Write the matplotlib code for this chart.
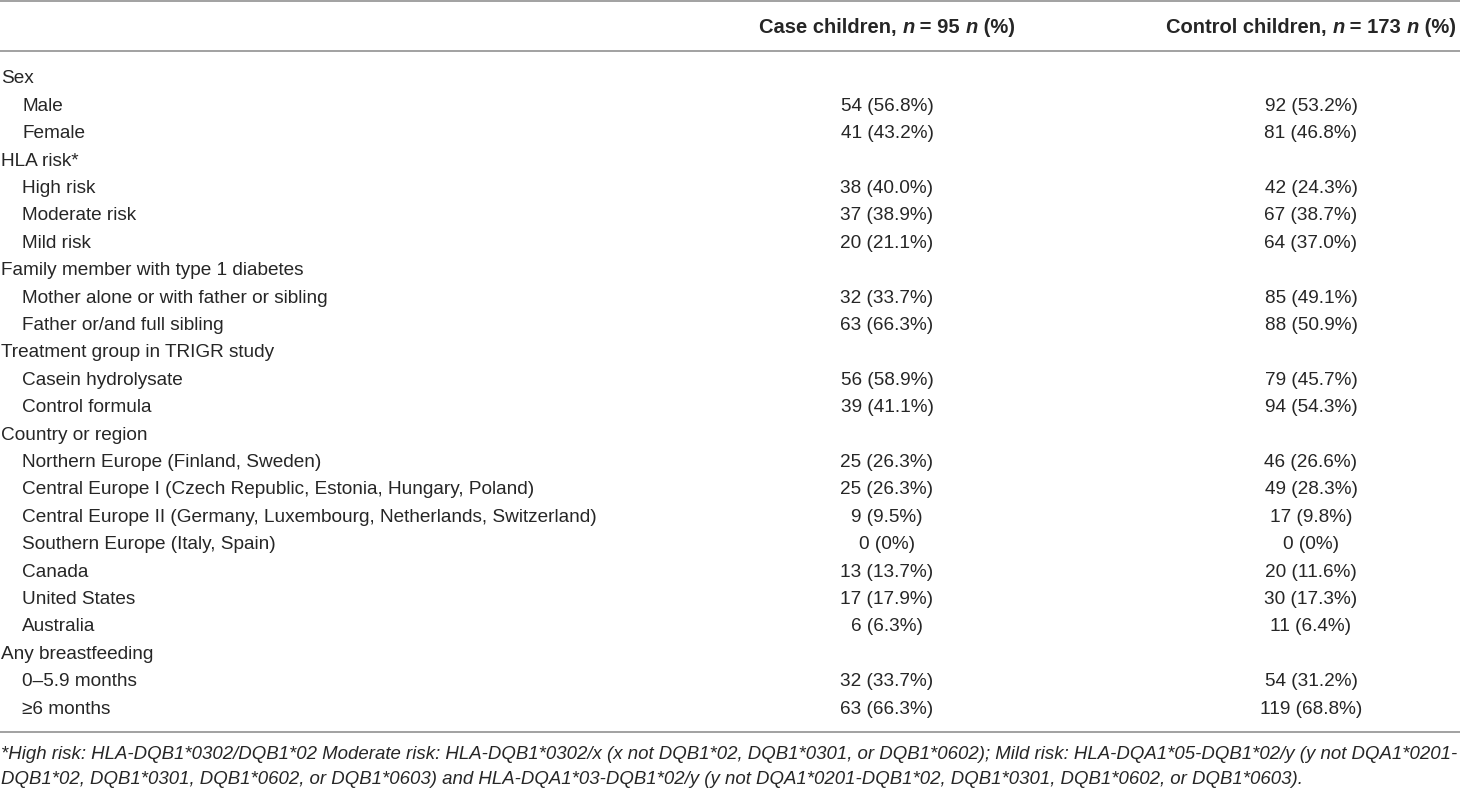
import matplotlib
matplotlib.use("Agg")
import matplotlib.pyplot as plt

# ---- data ----
row_labels = [
    "Sex", "Male", "Female",
    "HLA risk*", "High risk", "Moderate risk", "Mild risk",
    "Family member with type 1 diabetes", "Mother alone or with father or sibling", "Father or/and full sibling",
    "Treatment group in TRIGR study", "Casein hydrolysate", "Control formula",
    "Country or region", "Northern Europe (Finland, Sweden)",
    "Central Europe I (Czech Republic, Estonia, Hungary, Poland)",
    "Central Europe II (Germany, Luxembourg, Netherlands, Switzerland)",
    "Southern Europe (Italy, Spain)", "Canada", "United States", "Australia",
    "Any breastfeeding", "0\u20135.9 months", "\u22656 months",
]
row_is_header = [1, 0, 0, 1, 0, 0, 0, 1, 0, 0, 1, 0, 0, 1, 0, 0, 0, 0, 0, 0, 0, 1, 0, 0]
case_values = [
    "", "54 (56.8%)", "41 (43.2%)",
    "", "38 (40.0%)", "37 (38.9%)", "20 (21.1%)",
    "", "32 (33.7%)", "63 (66.3%)",
    "", "56 (58.9%)", "39 (41.1%)",
    "", "25 (26.3%)", "25 (26.3%)", "9 (9.5%)", "0 (0%)", "13 (13.7%)", "17 (17.9%)", "6 (6.3%)",
    "", "32 (33.7%)", "63 (66.3%)",
]
control_values = [
    "", "92 (53.2%)", "81 (46.8%)",
    "", "42 (24.3%)", "67 (38.7%)", "64 (37.0%)",
    "", "85 (49.1%)", "88 (50.9%)",
    "", "79 (45.7%)", "94 (54.3%)",
    "", "46 (26.6%)", "49 (28.3%)", "17 (9.8%)", "0 (0%)", "20 (11.6%)", "30 (17.3%)", "11 (6.4%)",
    "", "54 (31.2%)", "119 (68.8%)",
]
header_case = [("Case children, ", "normal"), ("n", "italic"), (" = 95 ", "normal"), ("n", "italic"), (" (%)", "normal")]
header_control = [("Control children, ", "normal"), ("n", "italic"), (" = 173 ", "normal"), ("n", "italic"), (" (%)", "normal")]
footnote_lines = [
    "*High risk: HLA-DQB1*0302/DQB1*02 Moderate risk: HLA-DQB1*0302/x (x not DQB1*02, DQB1*0301, or DQB1*0602); Mild risk: HLA-DQA1*05-DQB1*02/y (y not DQA1*0201-",
    "DQB1*02, DQB1*0301, DQB1*0602, or DQB1*0603) and HLA-DQA1*03-DQB1*02/y (y not DQA1*0201-DQB1*02, DQB1*0301, DQB1*0602, or DQB1*0603).",
]

# ---- layout ----
W, H = 1460, 788
plt.rcParams['font.family'] = ['Liberation Sans', 'DejaVu Sans']
TEXT = "#262626"
LINE = "#9a9a9a"
FS = 13.7
FS_HEAD = 14.5
FS_FOOT = 13.45
CAP = 0.716  # cap height / em for Liberation Sans


def half_cap(fs):
    return fs * 100 / 72 * CAP / 2


fig = plt.figure(figsize=(W / 100, H / 100), dpi=100)
ax = fig.add_axes([0, 0, 1, 1])
ax.set_xlim(0, W)
ax.set_ylim(H, 0)
ax.axis("off")

for y in (1.2, 50.5, 731.5):
    ax.plot([0, W], [y, y], color=LINE, lw=1.3, solid_capstyle="butt")

col_case_x = 887
col_ctrl_x = 1311

fig.canvas.draw()
renderer = fig.canvas.get_renderer()


def draw_pieces(pieces, xc, y):
    widths = []
    for txt, style in pieces:
        t = ax.text(0, y, txt, fontsize=FS_HEAD, fontweight="bold", fontstyle=style)
        bb = t.get_window_extent(renderer)
        widths.append(bb.width)
        t.remove()
    total = sum(widths)
    x = xc - total / 2
    for (txt, style), w in zip(pieces, widths):
        ax.text(x, y, txt, fontsize=FS_HEAD, fontweight="bold", fontstyle=style,
                color=TEXT, va="baseline", ha="left")
        x += w


draw_pieces(header_case, col_case_x, 25.5 + half_cap(FS_HEAD))
draw_pieces(header_control, col_ctrl_x, 25.5 + half_cap(FS_HEAD))

y0, dy = 76.5, 27.4
for i, lab in enumerate(row_labels):
    y = y0 + i * dy + half_cap(FS)
    x = 1 if row_is_header[i] else 22
    ax.text(x, y, lab, fontsize=FS, color=TEXT, va="baseline", ha="left")
    if case_values[i]:
        ax.text(col_case_x, y, case_values[i], fontsize=FS, color=TEXT, va="baseline", ha="center")
    if control_values[i]:
        ax.text(col_ctrl_x, y, control_values[i], fontsize=FS, color=TEXT, va="baseline", ha="center")

for j, line in enumerate(footnote_lines):
    ax.text(1, 752 + j * 25 + half_cap(FS_FOOT), line, fontsize=FS_FOOT, color=TEXT,
            fontstyle="italic", va="baseline", ha="left")

fig.savefig("out.png", dpi=100)
